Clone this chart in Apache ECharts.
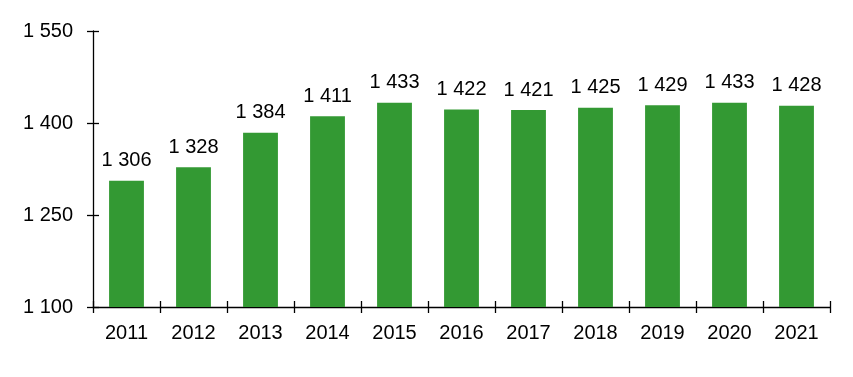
<!DOCTYPE html>
<html>
<head>
<meta charset="utf-8">
<script src="https://cdn.jsdelivr.net/npm/echarts@6/dist/echarts.min.js"></script>
<style>
  html, body { margin: 0; padding: 0; background: #fff; }
  #chart { width: 853px; height: 377px; }
</style>
</head>
<body>
<div id="chart"></div>
<script>
const years = ['2011', '2012', '2013', '2014', '2015', '2016', '2017', '2018', '2019', '2020', '2021'];
const values = [1306, 1328, 1384, 1411, 1433, 1422, 1421, 1425, 1429, 1433, 1428];
const yMin = 1100;
const yMax = 1550;
const yStep = 150;

// 1 306 style (space as thousands separator)
function fmt(v) {
    return String(v).replace(/\B(?=(\d{3})+(?!\d))/g, ' ');
}

const chart = echarts.init(document.getElementById('chart'));
const font = { fontFamily: '"Liberation Sans", Arial, sans-serif', fontSize: 20, color: '#000' };
const line = { color: '#000', width: 1.3 };

chart.setOption({
    animation: false,
    grid: { left: 93, right: 23, top: 31, bottom: 70 },
    xAxis: [{
        type: 'category',
        position: 'bottom',
        data: years,
        axisLine: { lineStyle: line },
        axisTick: { show: true, interval: 0, length: 6, lineStyle: line },
        axisLabel: Object.assign({ margin: 16, interval: 0 }, font)
    }, {
        // inner half of the crossing ticks
        type: 'category',
        position: 'bottom',
        data: years,
        axisLine: { show: false },
        axisTick: { show: true, inside: true, interval: 0, length: 6, lineStyle: line },
        axisLabel: { show: false }
    }],
    yAxis: [{
        type: 'value',
        position: 'left',
        min: yMin,
        max: yMax,
        interval: yStep,
        axisLine: { show: true, lineStyle: line },
        axisTick: { show: true, length: 6, lineStyle: line },
        splitLine: { show: false },
        axisLabel: Object.assign({ margin: 20, formatter: fmt }, font)
    }, {
        type: 'value',
        position: 'left',
        min: yMin,
        max: yMax,
        interval: yStep,
        axisLine: { show: false },
        axisTick: { show: true, inside: true, length: 6, lineStyle: line },
        splitLine: { show: false },
        axisLabel: { show: false }
    }],
    series: [{
        type: 'bar',
        data: values,
        barWidth: '52%',
        itemStyle: { color: '#339933' },
        label: Object.assign({
            show: true,
            position: 'top',
            distance: 10,
            formatter: p => fmt(p.value)
        }, font)
    }]
});
</script>
</body>
</html>
